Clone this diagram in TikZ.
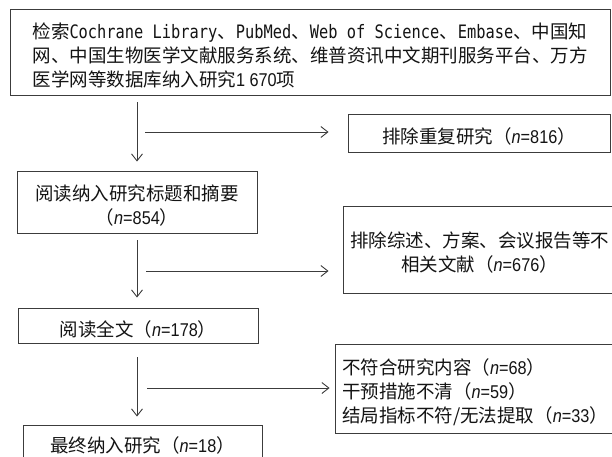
\documentclass[tikz,border=0pt]{standalone}
\usepackage{fontspec}
\setmainfont{Noto Sans CJK SC}
\newfontfamily\mono[FakeStretch=0.83]{DejaVu Sans Mono}
\newfontfamily\numf[FakeStretch=0.88]{Liberation Sans}
\usetikzlibrary{arrows.meta}
\definecolor{linec}{RGB}{60,60,60}
\definecolor{txtc}{RGB}{20,20,20}
\newcommand{\nval}[1]{（{\numf\itshape n}{\numf =#1}）}
\begin{document}
\begin{tikzpicture}[x=1pt,y=-1pt,
  box/.style={draw=linec, line width=0.9pt, inner sep=0pt},
  lab/.style={inner sep=0pt, text=txtc, font=\fontsize{18.5}{24}\selectfont, yshift=-3.5pt},
  arr/.style={draw=linec, line width=0.9pt, -{Straight Barb[length=7pt,width=11pt]}}]
\useasboundingbox (0,0) rectangle (612,456);
\clip (0,0) rectangle (612,456);
\fill[white] (0,0) rectangle (612,456);
\node[box, minimum width=600pt, minimum height=86pt,
  label={[lab, align=left]center:{检索{\mono Cochrane Library}、{\mono PubMed}、{\mono Web of Science}、{\mono Embase}、中国知\\
   网、中国生物医学文献服务系统、维普资讯中文期刊服务平台、万方\\
   医学网等数据库纳入研究{\numf 1 670}项}}] (src) at (310,52) {};
\node[box, minimum width=262pt, minimum height=38pt,
  label={[lab]center:{排除重复研究\nval{816}}}] (dup) at (479,133) {};
\node[box, minimum width=240pt, minimum height=62pt,
  label={[lab, align=center]center:{阅读纳入研究标题和摘要\\\nval{854}}}] (ta) at (137,202) {};
\node[box, minimum width=273pt, minimum height=87pt,
  label={[lab, align=center]center:{排除综述、方案、会议报告等不\\相关文献\nval{676}}}] (ex2) at (479.5,249.5) {};
\node[box, minimum width=240pt, minimum height=35pt,
  label={[lab]center:{阅读全文\nval{178}}}] (ft) at (138,325.5) {};
\node[box, minimum width=280pt, minimum height=89pt,
  label={[lab, align=left]center:{不符合研究内容\nval{68}\\干预措施不清\nval{59}\\结局指标不符/无法提取\nval{33}}}] (ex3) at (475,388.5) {};
\node[box, minimum width=239pt, minimum height=44pt,
  label={[lab, yshift=5pt]center:{最终纳入研究\nval{18}}}] (fin) at (142.5,447) {};
\coordinate (h1) at (145,132);
\coordinate (h2) at (146,271);
\coordinate (h3) at (147,388);
\draw[arr] ([yshift=-7pt]ta.north |- src.south) -- ([yshift=9pt]ta.north);
\draw[arr] (h1) -- ([xshift=-19pt]dup.west |- h1);
\draw[arr] ([yshift=-7pt]ta.south) -- ([yshift=10pt]ft.north -| ta.south);
\draw[arr] (h2) -- ([xshift=-14pt]ex2.west |- h2);
\draw[arr] ([yshift=-14pt]ft.south -| ta.south) -- ([yshift=8pt]fin.north -| ta.south);
\draw[arr] (h3) -- ([xshift=-5pt]ex3.west |- h3);
\end{tikzpicture}
\end{document}
